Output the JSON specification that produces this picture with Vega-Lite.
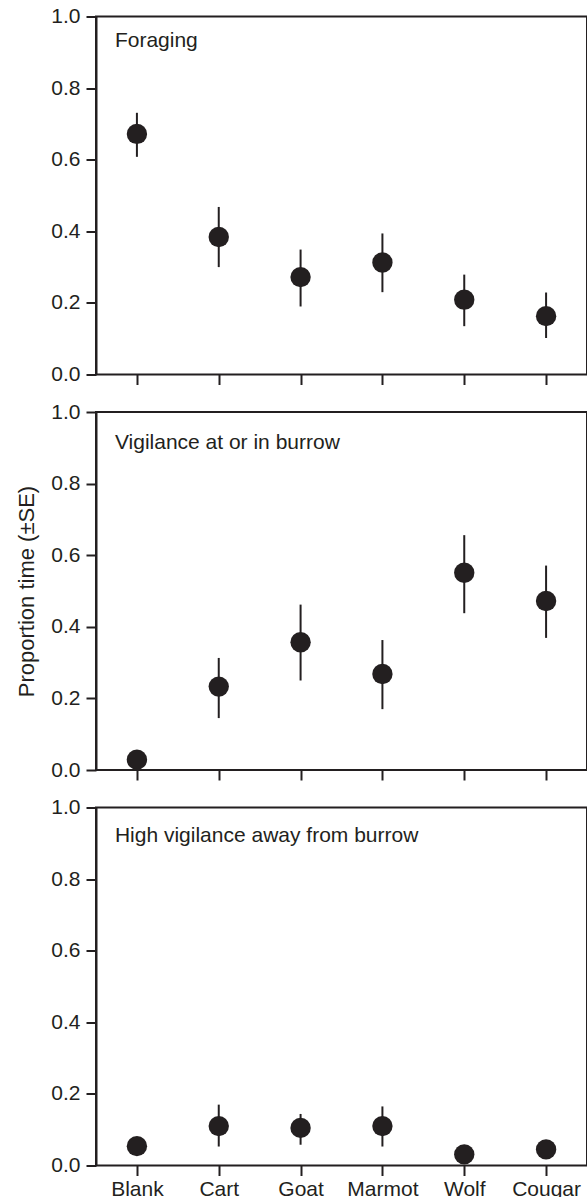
{
  "$schema": "https://vega.github.io/schema/vega-lite/v6.json",
  "padding": {"top": 4.5, "left": 14, "right": 0, "bottom": 0},
  "spacing": 13.5,
  "config": {
    "font": "Liberation Sans",
    "view": {"stroke": "#231f20", "strokeWidth": 2},
    "axis": {
      "domainColor": "#231f20", "domainWidth": 2,
      "tickColor": "#231f20", "tickWidth": 2, "tickSize": 10,
      "labelFont": "Liberation Sans", "labelFontSize": 21, "labelColor": "#231f20",
      "titleFont": "Liberation Sans", "titleFontWeight": "normal", "titleFontSize": 22, "titleColor": "#231f20",
      "grid": false
    }
  },
  "datasets": {
    "d": [
      {"panel": "Foraging", "stimulus": "Blank", "mean": 0.672, "lo": 0.608, "hi": 0.731},
      {"panel": "Foraging", "stimulus": "Cart", "mean": 0.384, "lo": 0.300, "hi": 0.468},
      {"panel": "Foraging", "stimulus": "Goat", "mean": 0.272, "lo": 0.190, "hi": 0.349},
      {"panel": "Foraging", "stimulus": "Marmot", "mean": 0.313, "lo": 0.230, "hi": 0.394},
      {"panel": "Foraging", "stimulus": "Wolf", "mean": 0.209, "lo": 0.135, "hi": 0.279},
      {"panel": "Foraging", "stimulus": "Cougar", "mean": 0.163, "lo": 0.102, "hi": 0.229},
      {"panel": "Burrow", "stimulus": "Blank", "mean": 0.029, "lo": 0.015, "hi": 0.045},
      {"panel": "Burrow", "stimulus": "Cart", "mean": 0.233, "lo": 0.145, "hi": 0.313},
      {"panel": "Burrow", "stimulus": "Goat", "mean": 0.357, "lo": 0.250, "hi": 0.462},
      {"panel": "Burrow", "stimulus": "Marmot", "mean": 0.268, "lo": 0.170, "hi": 0.363},
      {"panel": "Burrow", "stimulus": "Wolf", "mean": 0.551, "lo": 0.438, "hi": 0.656},
      {"panel": "Burrow", "stimulus": "Cougar", "mean": 0.472, "lo": 0.369, "hi": 0.571},
      {"panel": "Away", "stimulus": "Blank", "mean": 0.054, "lo": 0.040, "hi": 0.068},
      {"panel": "Away", "stimulus": "Cart", "mean": 0.110, "lo": 0.053, "hi": 0.170},
      {"panel": "Away", "stimulus": "Goat", "mean": 0.105, "lo": 0.058, "hi": 0.144},
      {"panel": "Away", "stimulus": "Marmot", "mean": 0.110, "lo": 0.053, "hi": 0.165},
      {"panel": "Away", "stimulus": "Wolf", "mean": 0.031, "lo": 0.020, "hi": 0.042},
      {"panel": "Away", "stimulus": "Cougar", "mean": 0.045, "lo": 0.032, "hi": 0.058}
    ]
  },
  "vconcat": [
    {
      "width": 491, "height": 358,
      "data": {"name": "d"},
      "transform": [{"filter": "datum.panel == 'Foraging'"}],
      "encoding": {
        "x": {"field": "stimulus", "type": "ordinal", "sort": null,
              "scale": {"type": "point", "padding": 0.5, "domain": ["Blank", "Cart", "Goat", "Marmot", "Wolf", "Cougar"]},
              "axis": {"labels": false, "title": null, "domain": false}},
        "y": {"type": "quantitative", "scale": {"domain": [0, 1], "nice": false},
              "axis": {"values": [0, 0.2, 0.4, 0.6, 0.8, 1.0], "format": ".1f", "labelPadding": 6, "title": null}}
      },
      "layer": [
        {"mark": {"type": "rule", "color": "#231f20", "strokeWidth": 2},
         "encoding": {"y": {"field": "lo", "type": "quantitative"}, "y2": {"field": "hi"}}},
        {"mark": {"type": "circle", "size": 415, "color": "#231f20", "opacity": 1},
         "encoding": {"y": {"field": "mean", "type": "quantitative"}}},
        {"data": {"values": [{"label": "Foraging"}]},
         "mark": {"type": "text", "align": "left", "baseline": "alphabetic", "dx": -22, "fontSize": 21, "font": "Liberation Sans", "color": "#231f20"},
         "encoding": {"x": {"datum": "Blank"}, "y": {"datum": 0.915}, "text": {"field": "label"}}}
      ]
    },
    {
      "width": 491, "height": 358,
      "data": {"name": "d"},
      "transform": [{"filter": "datum.panel == 'Burrow'"}],
      "encoding": {
        "x": {"field": "stimulus", "type": "ordinal", "sort": null,
              "scale": {"type": "point", "padding": 0.5, "domain": ["Blank", "Cart", "Goat", "Marmot", "Wolf", "Cougar"]},
              "axis": {"labels": false, "title": null, "domain": false}},
        "y": {"type": "quantitative", "scale": {"domain": [0, 1], "nice": false},
              "axis": {"values": [0, 0.2, 0.4, 0.6, 0.8, 1.0], "format": ".1f", "labelPadding": 6, "title": "Proportion time (±SE)", "titlePadding": 12}}
      },
      "layer": [
        {"mark": {"type": "rule", "color": "#231f20", "strokeWidth": 2},
         "encoding": {"y": {"field": "lo", "type": "quantitative"}, "y2": {"field": "hi"}}},
        {"mark": {"type": "circle", "size": 415, "color": "#231f20", "opacity": 1},
         "encoding": {"y": {"field": "mean", "type": "quantitative"}}},
        {"data": {"values": [{"label": "Vigilance at or in burrow"}]},
         "mark": {"type": "text", "align": "left", "baseline": "alphabetic", "dx": -22, "fontSize": 21, "font": "Liberation Sans", "color": "#231f20"},
         "encoding": {"x": {"datum": "Blank"}, "y": {"datum": 0.897}, "text": {"field": "label"}}}
      ]
    },
    {
      "width": 491, "height": 358,
      "data": {"name": "d"},
      "transform": [{"filter": "datum.panel == 'Away'"}],
      "encoding": {
        "x": {"field": "stimulus", "type": "ordinal", "sort": null,
              "scale": {"type": "point", "padding": 0.5, "domain": ["Blank", "Cart", "Goat", "Marmot", "Wolf", "Cougar"]},
              "axis": {"labels": true, "title": null, "domain": false, "labelPadding": 3, "labelAngle": 0}},
        "y": {"type": "quantitative", "scale": {"domain": [0, 1], "nice": false},
              "axis": {"values": [0, 0.2, 0.4, 0.6, 0.8, 1.0], "format": ".1f", "labelPadding": 6, "title": null}}
      },
      "layer": [
        {"mark": {"type": "rule", "color": "#231f20", "strokeWidth": 2},
         "encoding": {"y": {"field": "lo", "type": "quantitative"}, "y2": {"field": "hi"}}},
        {"mark": {"type": "circle", "size": 415, "color": "#231f20", "opacity": 1},
         "encoding": {"y": {"field": "mean", "type": "quantitative"}}},
        {"data": {"values": [{"label": "High vigilance away from burrow"}]},
         "mark": {"type": "text", "align": "left", "baseline": "alphabetic", "dx": -22, "fontSize": 21, "font": "Liberation Sans", "color": "#231f20"},
         "encoding": {"x": {"datum": "Blank"}, "y": {"datum": 0.904}, "text": {"field": "label"}}}
      ]
    }
  ]
}
